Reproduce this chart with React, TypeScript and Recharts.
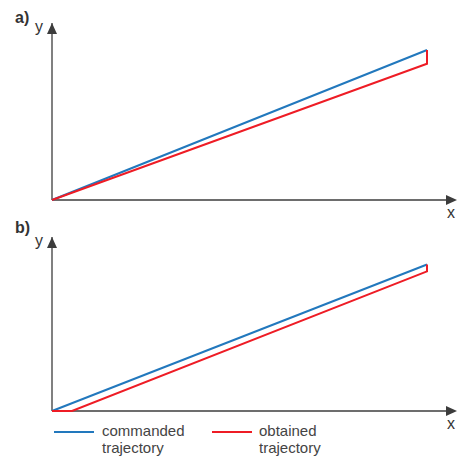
import React from 'react';
import { LineChart, Line, XAxis, YAxis, ReferenceDot, ReferenceLine, Legend } from 'recharts';

const X_MAX = 16;
const Y_MAX = 7.08;

const commandedA = [
  { x: 0, y: 0 },
  { x: 15, y: 6 },
];
const obtainedA = [
  { x: 0, y: 0 },
  { x: 15, y: 5.45 },
  { x: 15, y: 6 },
];
const commandedB = [
  { x: 0, y: 0 },
  { x: 15, y: 5.96 },
];
const obtainedB = [
  { x: 0, y: 0 },
  { x: 0.8, y: 0 },
  { x: 15, y: 5.68 },
  { x: 15, y: 5.96 },
];

const seriesNames = ['commanded trajectory', 'obtained trajectory'];
const BLUE = '#2278bd';
const RED = '#ee1c25';
const AXIS = '#3c3c3c';
const FONT = 'Arial, "Liberation Sans", sans-serif';

const XArrow = (props: any) => {
  const { cx, cy } = props;
  return (
    <g>
      <polygon points={`${cx - 6},${cy - 5} ${cx + 5},${cy} ${cx - 6},${cy + 5}`} fill={AXIS} />
      <text x={cx - 1} y={cy + 18} fontSize={16} fill="#333" fontFamily={FONT} textAnchor="middle">x</text>
    </g>
  );
};

const makeYArrow = (tag: string, tagDy: number) => (props: any) => {
  const { cx, cy } = props;
  return (
    <g>
      <polygon points={`${cx - 5},${cy + 11} ${cx},${cy} ${cx + 5},${cy + 11}`} fill={AXIS} />
      <text x={cx - 13} y={cy + 9} fontSize={16} fill="#333" fontFamily={FONT} textAnchor="middle">y</text>
      <text x={cx - 37} y={cy + tagDy} fontSize={16} fontWeight="bold" fill="#333" fontFamily={FONT}>{tag}</text>
    </g>
  );
};

const LegendContent = () => (
  <div style={{ position: 'relative', height: 40, fontFamily: FONT, fontSize: 15, color: '#444' }}>
    {[BLUE, RED].map((c, i) => (
      <div key={i} style={{ position: 'absolute', left: i === 0 ? 54 : 212, top: 0 }}>
        <div style={{ position: 'absolute', left: 0, top: 9, width: 40, height: 2, background: c }} />
        <div style={{ position: 'absolute', left: i === 0 ? 48 : 47, top: 0, lineHeight: '17px', width: 120 }}>
          {seriesNames[i].split(' ').map((w, k) => (
            <div key={k}>{w}</div>
          ))}
        </div>
      </div>
    ))}
  </div>
);

const Panel = ({ tag, tagDy, commanded, obtained, top, height, marginTop, marginBottom, legend }: any) => (
  <div style={{ position: 'absolute', left: 0, top }}>
    <LineChart width={458} height={height} margin={{ top: marginTop, right: 6, bottom: marginBottom, left: 52 }}>
      <XAxis type="number" dataKey="x" domain={[0, X_MAX]} hide allowDuplicatedCategory={false} />
      <YAxis type="number" dataKey="y" domain={[0, Y_MAX]} hide />
      <ReferenceLine y={0} stroke={AXIS} strokeWidth={1.3} ifOverflow="visible" />
      <ReferenceLine x={0} stroke={AXIS} strokeWidth={1.3} ifOverflow="visible" />
      <Line data={commanded} dataKey="y" name={seriesNames[0]} stroke={BLUE} strokeWidth={2} dot={false} isAnimationActive={false} />
      <Line data={obtained} dataKey="y" name={seriesNames[1]} stroke={RED} strokeWidth={2} dot={false} isAnimationActive={false} />
      <ReferenceDot x={X_MAX} y={0} r={0} shape={XArrow} ifOverflow="visible" />
      <ReferenceDot x={0} y={Y_MAX} r={0} shape={makeYArrow(tag, tagDy)} ifOverflow="visible" />
      {legend && <Legend verticalAlign="bottom" align="left" content={LegendContent} wrapperStyle={{ left: 0, top: 208 }} />}
    </LineChart>
  </div>
);

export default function App() {
  return (
    <div style={{ position: 'absolute', left: 0, top: 0, width: 458, height: 456, background: '#fff', overflow: 'hidden' }}>
      <Panel tag="a)" tagDy={0} commanded={commandedA} obtained={obtainedA} top={0} height={228} marginTop={23} marginBottom={28} />
      <Panel tag="b)" tagDy={-4} commanded={commandedB} obtained={obtainedB} top={214} height={242} marginTop={23} marginBottom={5} legend />
    </div>
  );
}
